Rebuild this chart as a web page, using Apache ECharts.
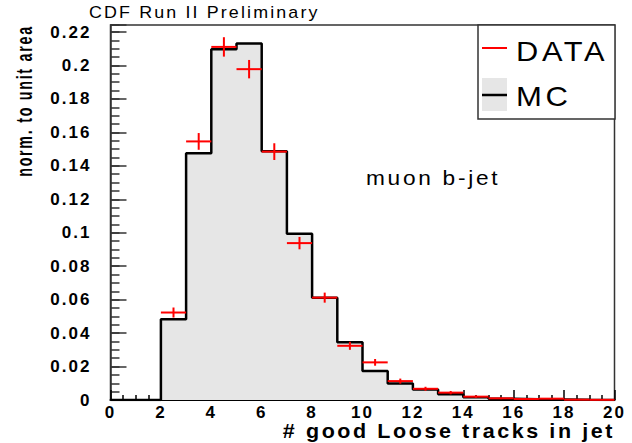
<!DOCTYPE html>
<html>
<head>
<meta charset="utf-8">
<script src="https://cdn.jsdelivr.net/npm/echarts@6/dist/echarts.min.js"></script>
<style>
  html, body { margin: 0; padding: 0; background: #fff; }
  #chart { width: 632px; height: 443px; }
  /* ROOT-style loose tracking on every label */
  #chart text { letter-spacing: 0.12em; }
</style>
</head>
<body>
<div id="chart"></div>
<script>
// Histogram binning: unit-width bins, lower edges from 2 to 19
const binWidth = 1;
const binLowEdges = [2, 3, 4, 5, 6, 7, 8, 9, 10, 11, 12, 13, 14, 15, 16, 17, 18, 19];

// Simulation (MC), normalised to unit area
const mcValues = [0.0483, 0.1475, 0.2097, 0.2131, 0.1487, 0.0994, 0.0612, 0.0346, 0.0173,
                  0.0099, 0.0063, 0.0034, 0.0016, 0.0007, 0.0004, 0.0003, 0.0001, 0.0000];

// Data points at bin centres, with statistical errors
const dataCenters = [2.5, 3.5, 4.5, 5.5, 6.5, 7.5, 8.5, 9.5, 10.5, 11.5, 12.5, 13.5, 14.5, 15.5, 16.5, 17.5, 18.5, 19.5];
const dataValues  = [0.0523, 0.1546, 0.2111, 0.1978, 0.1485, 0.0938, 0.0612, 0.0324, 0.0225,
                     0.0113, 0.0067, 0.0044, 0.0020, 0.0010, 0.0006, 0.0008, 0.0002, 0.0001];
const dataErrors  = [0.0030, 0.0050, 0.0058, 0.0055, 0.0050, 0.0037, 0.0030, 0.0024, 0.0020,
                     0.0015, 0.0012, 0.0010, 0.0007, 0.0005, 0.0004, 0.0004, 0.0002, 0.0001];

// Axis ranges and tick steps
const xRange = [0, 20];
const xMajorStep = 2;
const yMax = 0.2242;
const yMajorStep = 0.02;
const yMinorStep = 0.005;

const titleText = 'CDF Run II Preliminary';
const xTitle = '# good Loose tracks in jet';
const yTitle = 'norm. to unit area';
const noteText = 'muon b-jet';
const legendNames = ['DATA', 'MC'];

const chart = echarts.init(document.getElementById('chart'), null, { renderer: 'svg' });

// Step outline of the MC histogram, starting on the baseline at x = 0
const mcOutline = [[xRange[0], 0]];
binLowEdges.forEach((x, i) => mcOutline.push([x, mcValues[i]]));
mcOutline.push([binLowEdges[binLowEdges.length - 1] + binWidth, mcValues[mcValues.length - 1]]);

const labelFont = { color: '#000', fontFamily: '"Liberation Sans", Arial', fontWeight: 'bold', fontSize: 17 };
const frameColor = '#333';

function yLabel(v) {
  const k = Math.round(v / yMajorStep);
  if (Math.abs(v - k * yMajorStep) > 1e-9) return '';
  return String(+(k * yMajorStep).toFixed(2));
}

chart.setOption({
  animation: false,
  backgroundColor: '#fff',
  grid: {
    left: 110.5, right: 17.5, top: 25, bottom: 43,
    show: true, borderColor: frameColor, borderWidth: 1.5, backgroundColor: 'transparent'
  },
  xAxis: {
    type: 'value', min: xRange[0], max: xRange[1], interval: xMajorStep,
    axisLine: { show: true, onZero: false, lineStyle: { color: '#000', width: 2 } },
    axisTick: { inside: true, length: 10, lineStyle: { color: '#000', width: 1.5 } },
    minorTick: { show: true, splitNumber: 4, length: 5, lineStyle: { color: '#000', width: 1.5 } },
    splitLine: { show: false },
    axisLabel: Object.assign({ margin: 4, lineHeight: 16 }, labelFont)
  },
  yAxis: [
    {
      type: 'value', min: 0, max: yMax, interval: yMajorStep, position: 'left',
      axisLine: { show: true, onZero: false, lineStyle: { color: frameColor, width: 1.5 } },
      axisTick: { inside: true, length: 16, lineStyle: { color: frameColor, width: 1.5 } },
      splitLine: { show: false },
      axisLabel: Object.assign({ margin: 19, formatter: yLabel }, labelFont)
    },
    {
      // finer ticks between the labelled ones
      type: 'value', min: 0, max: yMax, interval: yMinorStep, position: 'left',
      axisLine: { show: false },
      axisTick: { inside: true, length: 9, lineStyle: { color: frameColor, width: 1.5 } },
      axisLabel: { show: false },
      splitLine: { show: false }
    }
  ],
  series: [
    {
      name: legendNames[1], type: 'line', step: 'end',
      data: mcOutline, showSymbol: false, symbol: 'none',
      xAxisIndex: 0, yAxisIndex: 0,
      lineStyle: { color: '#000', width: 2.5 },
      areaStyle: { color: '#e6e6e6', opacity: 1 },
      z: 2
    },
    {
      name: legendNames[0], type: 'custom',
      xAxisIndex: 0, yAxisIndex: 0,
      data: dataCenters.map((x, i) => [x, dataValues[i], dataErrors[i]]),
      encode: { x: 0, y: 1 },
      renderItem: function (params, api) {
        const x = api.value(0), y = api.value(1), e = api.value(2);
        const l = api.coord([x - binWidth / 2, y]);
        const r = api.coord([x + binWidth / 2, y]);
        const t = api.coord([x, y + e]);
        const b = api.coord([x, Math.max(0, y - e)]);
        const style = { stroke: '#ff0000', lineWidth: 2 };
        return {
          type: 'group',
          children: [
            { type: 'line', shape: { x1: l[0], y1: l[1], x2: r[0], y2: r[1] }, style: style },
            { type: 'line', shape: { x1: t[0], y1: t[1], x2: b[0], y2: b[1] }, style: style }
          ]
        };
      },
      z: 3
    }
  ],
  graphic: [
    {
      type: 'text', x: 89, y: 12, scaleX: 1.05, z: 10,
      style: { text: titleText, font: '17px "Liberation Sans", Arial', fill: '#000',
               textAlign: 'left', textVerticalAlign: 'middle' }
    },
    {
      type: 'text', x: 24, y: 101, rotation: Math.PI / 2, scaleX: 0.65, z: 10,
      style: { text: yTitle, font: 'bold 22px "Liberation Sans", Arial', fill: '#000',
               textAlign: 'center', textVerticalAlign: 'middle' }
    },
    {
      type: 'text', x: 615, y: 431, scaleX: 1.075, z: 10,
      style: { text: xTitle, font: 'bold 20px "Liberation Sans", Arial', fill: '#000',
               textAlign: 'right', textVerticalAlign: 'middle' }
    },
    {
      type: 'text', x: 366, y: 178, scaleX: 1.08, z: 10,
      style: { text: noteText, font: '21px "Liberation Sans", Arial', fill: '#000',
               textAlign: 'left', textVerticalAlign: 'middle' }
    },
    // legend box
    {
      type: 'group', z: 10,
      children: [
        { type: 'rect', shape: { x: 478, y: 25, width: 137, height: 94 },
          style: { fill: '#fff', stroke: frameColor, lineWidth: 1.5 } },
        { type: 'line', shape: { x1: 482, y1: 48, x2: 507, y2: 48 },
          style: { stroke: '#ff0000', lineWidth: 2 } },
        { type: 'text', x: 516, y: 52, scaleX: 1.14,
          style: { text: legendNames[0], font: '27px "Liberation Sans", Arial', fill: '#000',
                   textAlign: 'left', textVerticalAlign: 'middle' } },
        { type: 'rect', shape: { x: 482, y: 78, width: 25, height: 33 },
          style: { fill: '#e6e6e6' } },
        { type: 'line', shape: { x1: 482, y1: 95, x2: 507, y2: 95 },
          style: { stroke: '#000', lineWidth: 2.5 } },
        { type: 'text', x: 516, y: 97, scaleX: 1.15,
          style: { text: legendNames[1], font: '27px "Liberation Sans", Arial', fill: '#000',
                   textAlign: 'left', textVerticalAlign: 'middle' } }
      ]
    }
  ]
});
</script>
</body>
</html>
